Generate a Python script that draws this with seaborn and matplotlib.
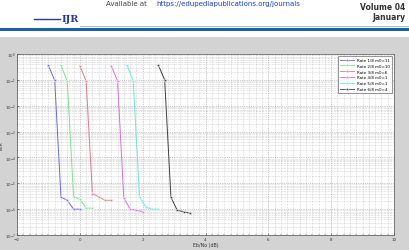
import numpy as np
import pandas as pd
import matplotlib
matplotlib.use("Agg")
import matplotlib.pyplot as plt
import seaborn as sns
from matplotlib.ticker import MultipleLocator, LogLocator, NullFormatter

# ---- data ----
labels = ["Rate 1/8 m0=11", "Rate 2/8 m0=10", "Rate 3/8 m0=6",
          "Rate 4/8 m0=1", "Rate 5/8 m0=1", "Rate 6/8 m0=4"]
x_r1 = [-1.0, -0.8, -0.6, -0.4, -0.2, 0.0]
y_r1 = [0.36, 0.095, 2.9e-6, 2.2e-6, 1.0e-6, 1.0e-6]
x_r2 = [-0.6, -0.4, -0.2, 0.0, 0.2, 0.4]
y_r2 = [0.36, 0.09, 3.0e-6, 2.4e-6, 1.1e-6, 1.1e-6]
x_r3 = [0.0, 0.2, 0.4, 0.6, 0.8, 1.0]
y_r3 = [0.35, 0.09, 4.0e-6, 3.0e-6, 2.2e-6, 2.2e-6]
x_r4 = [1.0, 1.2, 1.4, 1.6, 1.8, 2.0]
y_r4 = [0.35, 0.09, 2.7e-6, 1.0e-6, 9e-7, 8e-7]
x_r5 = [1.5, 1.7, 1.9, 2.1, 2.3, 2.5]
y_r5 = [0.37, 0.09, 3.0e-6, 1.2e-6, 1.0e-6, 1.0e-6]
x_r6 = [2.5, 2.7, 2.9, 3.1, 3.3, 3.5]
y_r6 = [0.37, 0.10, 2.9e-6, 9e-7, 8e-7, 7e-7]
xticks = [-2, 0, 2, 4, 6, 8, 10]

xs = [x_r1, x_r2, x_r3, x_r4, x_r5, x_r6]
ys = [y_r1, y_r2, y_r3, y_r4, y_r5, y_r6]
rows = []
for lab, xv, yv in zip(labels, xs, ys):
    for a, b in zip(xv, yv):
        rows.append({"snr": a, "ber": b, "series": lab})
df = pd.DataFrame(rows)

colors = ["#6a6ad6", "#7fe08f", "#e07888", "#d470d4", "#70e2e2", "#404040"]
palette = dict(zip(labels, colors))

W, H = 409, 251
fig = plt.figure(figsize=(W / 100, H / 100), dpi=100)
fig.patch.set_facecolor("white")

# gray MATLAB-like figure area
bg = fig.add_axes([0, 0, 1, 1 - 38 / H])
bg.set_facecolor("#d3d3d3")
bg.set_xticks([]); bg.set_yticks([])
for s in bg.spines.values():
    s.set_visible(False)
bg.set_zorder(-5)

# header
fig.add_artist(plt.Line2D([0, 1], [1 - 29.5 / H] * 2, color="#1f5fa8", lw=2.2,
                          transform=fig.transFigure))
fig.add_artist(plt.Line2D([80 / W, 1], [1 - 26.5 / H] * 2, color="#7fb2e0", lw=0.6,
                          transform=fig.transFigure))
fig.text(106 / W, 1 - 0.8 / H, "Available at", fontsize=5.0, color="#444444",
         ha="left", va="top")
fig.text(156 / W, 1 - 0.8 / H, "https://edupediapublications.org/journals",
         fontsize=5.0, color="#1a3fd0", ha="left", va="top")
fig.text(405 / W, 1 - 8 / H, "Volume 04", fontsize=5.5, color="#333333",
         ha="right", va="center", fontweight="bold")
fig.text(405 / W, 1 - 18 / H, "January", fontsize=5.5, color="#333333",
         ha="right", va="center", fontweight="bold")
fig.text(62 / W, 1 - 19 / H, "IJR", fontsize=7, color="#2a3b8f",
         ha="left", va="center", family="DejaVu Serif", fontweight="bold")
fig.add_artist(plt.Line2D([34 / W, 60 / W], [1 - 20 / H] * 2, color="#2a3b8f", lw=1.0,
                          transform=fig.transFigure))

# main axes
L, R, T, B = 17, 394, 55, 236
ax = fig.add_axes([L / W, 1 - B / H, (R - L) / W, (B - T) / H])
ax.set_facecolor("white")

sns.lineplot(data=df, x="snr", y="ber", hue="series", hue_order=labels,
             palette=palette, marker="*", markersize=3.2, markeredgewidth=0.3,
             linewidth=0.7, ax=ax, sort=False, estimator=None, legend=True)

ax.set_yscale("log")
ax.set_ylim(1e-7, 1)
ax.set_xlim(-2, 10)
ax.set_xticks(xticks)
ax.xaxis.set_minor_locator(MultipleLocator(0.2))
ax.yaxis.set_major_locator(LogLocator(base=10, numticks=20))
ax.yaxis.set_minor_locator(LogLocator(base=10, subs=np.arange(2, 10), numticks=20))
ax.yaxis.set_minor_formatter(NullFormatter())

ax.grid(True, which="major", color="#9a9a9a", linestyle=":", linewidth=0.5)
ax.grid(True, which="minor", color="#b0b0b0", linestyle=":", linewidth=0.4)
ax.set_axisbelow(True)

ax.tick_params(axis="both", which="major", labelsize=2.9, length=1.5, width=0.4,
               pad=0.8, colors="#333333", direction="in")
ax.tick_params(axis="x", which="major", pad=1.6)
ax.tick_params(axis="both", which="minor", length=0.8, width=0.3, direction="in")
for s in ax.spines.values():
    s.set_linewidth(0.5)
    s.set_color("#555555")

ax.set_xlabel("Eb/No (dB)", fontsize=3.4, labelpad=0.8, color="#333333")
ax.set_ylabel("BER", fontsize=3.2, labelpad=0.6, color="#333333")

leg = ax.legend(loc="upper right", fontsize=2.9, frameon=True, fancybox=False,
                edgecolor="#444444", framealpha=1, borderpad=0.5,
                handlelength=3.5, labelspacing=0.45, borderaxespad=0.5)
leg.get_frame().set_linewidth(0.4)
for line in leg.get_lines():
    line.set_linewidth(0.6)

fig.savefig("out.png", dpi=100)
